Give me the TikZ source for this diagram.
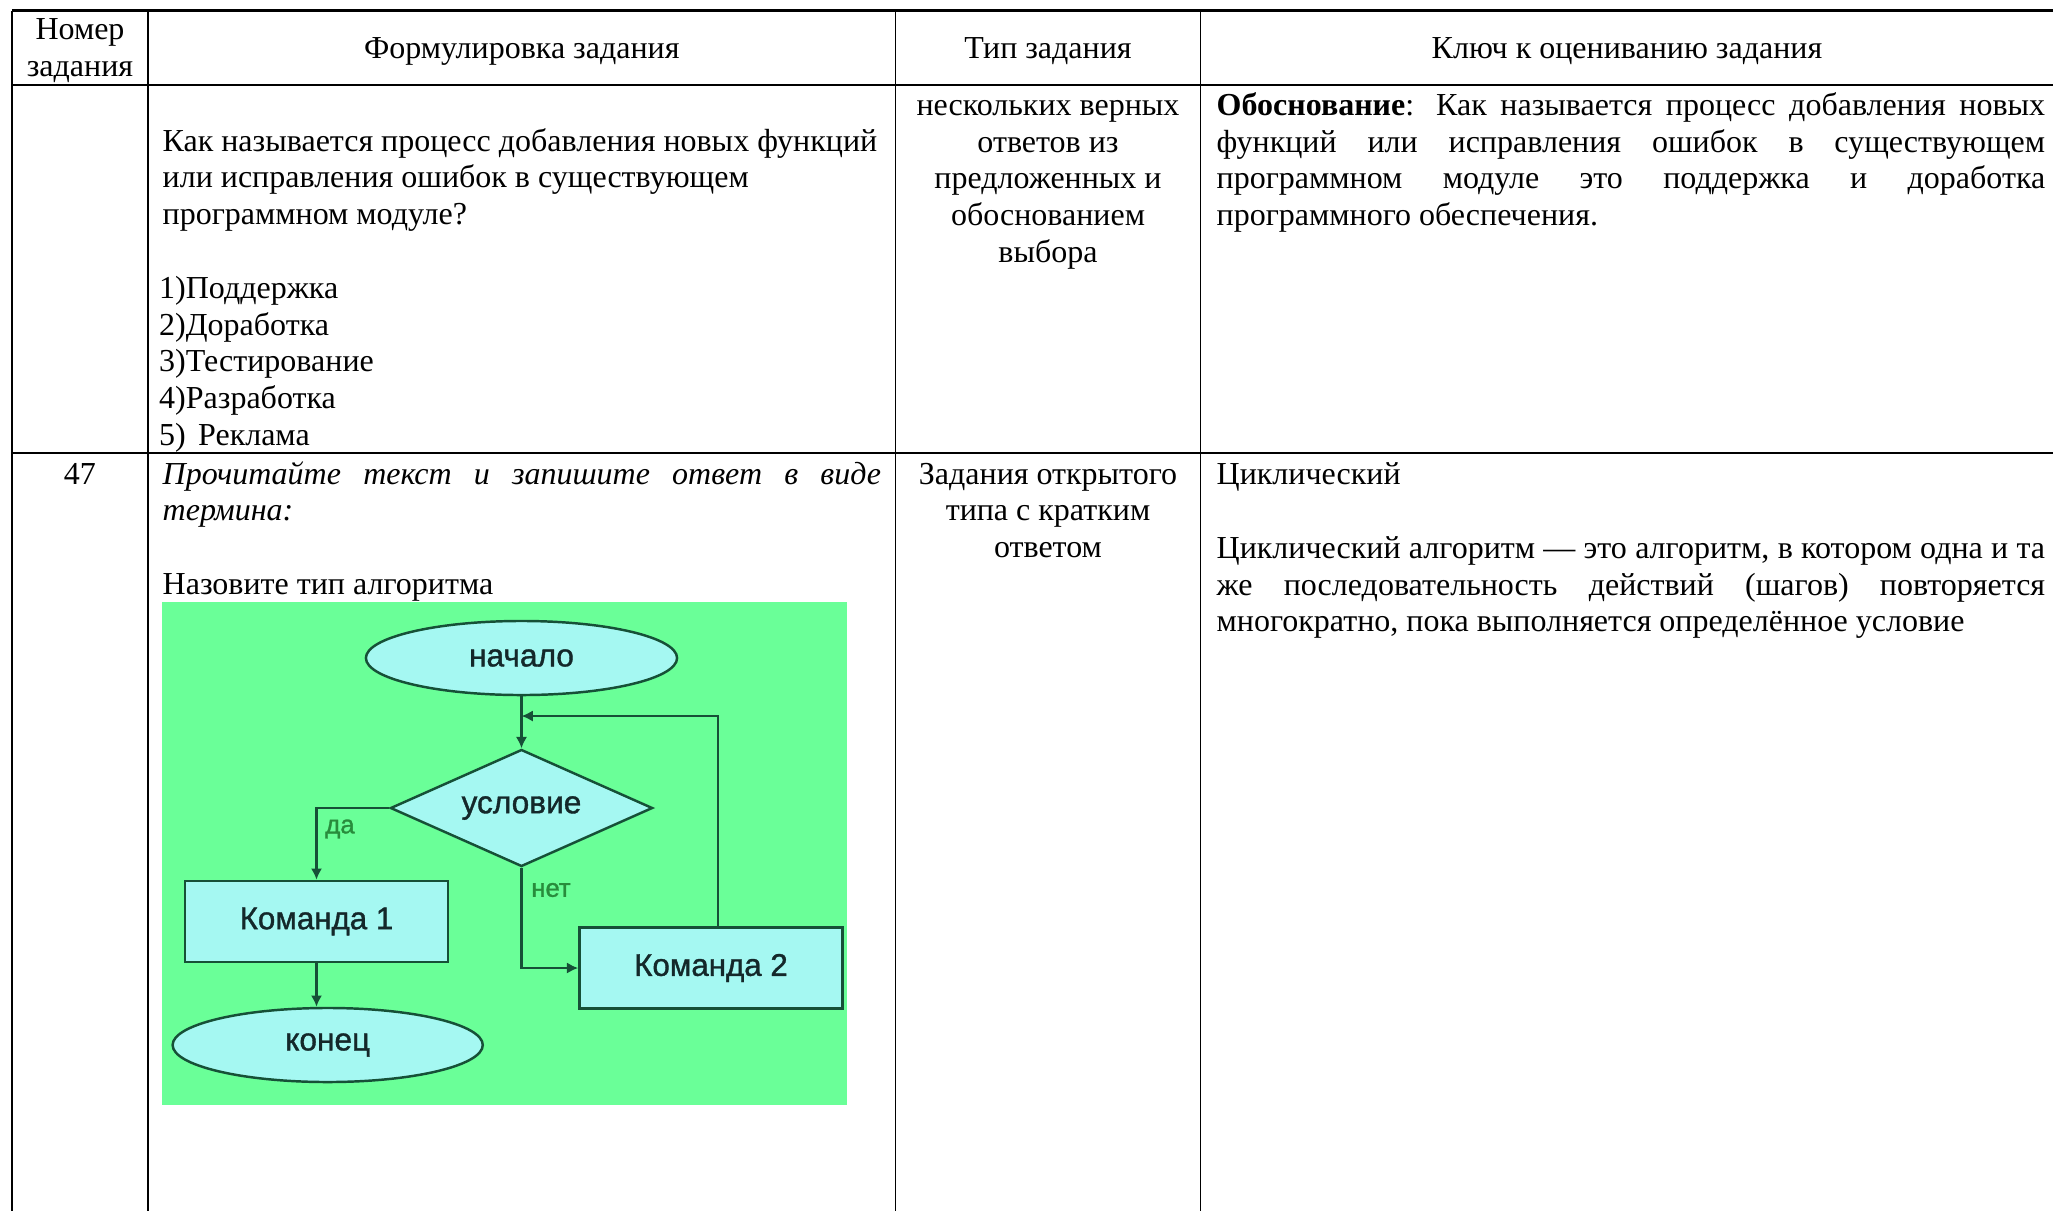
\documentclass[tikz,border=0pt]{standalone}
\usepackage{fontspec}
\setmainfont{Liberation Serif}
\newfontfamily\flowsans[FakeBold=1.2]{Liberation Sans}
\usetikzlibrary{shapes.geometric,arrows.meta}

\definecolor{flowbg}{RGB}{106,255,152}
\definecolor{flowfill}{RGB}{165,248,242}
\definecolor{flowline}{RGB}{22,80,55}
\definecolor{flowtext}{RGB}{20,40,42}
\definecolor{labgreen}{RGB}{40,140,60}

\newcommand\tabfont{\fontsize{9.1pt}{10.44pt}\selectfont}
\newcommand\jline[2]{\makebox[#1][s]{#2}}

\tikzset{
  celltext/.style={inner sep=0pt, font=\tabfont, anchor=base west},
  midtext/.style={inner sep=0pt, font=\tabfont, anchor=base},
  hrule/.style={line width=0.7pt},
  vrule/.style={line width=0.45pt},
  term/.style={ellipse, draw=flowline, fill=flowfill, line width=0.7pt, inner sep=0pt,
    minimum width=3.11cm, minimum height=0.74cm, text=flowtext,
    font=\flowsans\fontsize{9pt}{10pt}\selectfont},
  cond/.style={diamond, aspect=2.24, draw=flowline, fill=flowfill, line width=0.7pt, inner sep=0pt,
    minimum width=2.62cm, minimum height=1.17cm, text=flowtext,
    font=\flowsans\fontsize{9pt}{10pt}\selectfont},
  cmdbox/.style={rectangle, draw=flowline, fill=flowfill, line width=0.7pt, inner sep=0pt,
    minimum width=2.63cm, minimum height=0.81cm, text=flowtext,
    font=\flowsans\fontsize{8.9pt}{10pt}\selectfont},
  flow/.style={draw=flowline, line width=0.7pt, -{Latex[length=3.2pt,width=3.2pt]}},
  branch/.style={inner sep=0pt, text=labgreen, font=\flowsans\fontsize{7.3pt}{8pt}\selectfont}
}

\begin{document}
\begin{tikzpicture}[x=0.01cm, y=-0.01cm]
  \useasboundingbox (0,0) rectangle (2053,1211);

  % table rules
  \draw[hrule] (11.8,10.5) -- (2053,10.5);
  \draw[hrule] (11.8,85) -- (2053,85);
  \draw[hrule] (11.8,453) -- (2053,453);
  \draw[vrule] (11.8,10.5) -- (11.8,1211);
  \draw[vrule] (148,10.5) -- (148,1211);
  \draw[vrule] (895.6,10.5) -- (895.6,1211);
  \draw[vrule] (1200.6,10.5) -- (1200.6,1211);

  % header
  \node[midtext] (hnum) at (80,39.5) {Номер};
  \node[midtext] (hnumb) at (80,76.2) {задания};
  \node[midtext] (hform) at (521.8,58.8) {Формулировка задания};
  \node[midtext] (htype) at (1048,58.8) {Тип задания};
  \node[midtext] (hkey) at (1627,58.8) {Ключ к оцениванию задания};

  % row 1
  \foreach \t [count=\i from 0] in {{Как называется процесс добавления новых функций},
      {или исправления ошибок в существующем},{программном модуле?}}
    \node[celltext] (qa\i) at (162,{151+36.7*\i}) {\t};
  \foreach \t [count=\i from 0] in {{1)Поддержка},{2)Доработка},{3)Тестирование},
      {4)Разработка},{5)\hspace{3.5pt}Реклама}}
    \node[celltext] (opt\i) at (158.5,{298.5+36.7*\i}) {\t};
  \foreach \t [count=\i from 0] in {{нескольких верных},{ответов из},{предложенных и},
      {обоснованием},{выбора}}
    \node[midtext] (tpa\i) at (1048,{115.5+36.7*\i}) {\t};
  \node[celltext] (ka0) at (1216,115.5)
    {\jline{8.28cm}{\textbf{Обоснование}: Как называется процесс добавления новых}};
  \node[celltext] (ka1) at (1216,152.2)
    {\jline{8.28cm}{функций или исправления ошибок в существующем}};
  \node[celltext] (ka2) at (1216,188.9)
    {\jline{8.28cm}{программном модуле это поддержка и доработка}};
  \node[celltext] (ka3) at (1216,225.6) {программного обеспечения.};

  % row 2
  \node[midtext] (num) at (80,484) {47};
  \node[celltext] (qb0) at (162,484)
    {\jline{7.18cm}{\itshape Прочитайте текст и запишите ответ в виде}};
  \node[celltext] (qb1) at (162,520.7) {\itshape термина:};
  \node[celltext] (qb2) at (162,594) {Назовите тип алгоритма};
  \foreach \t [count=\i from 0] in {{Задания открытого},{типа с кратким},{ответом}}
    \node[midtext] (tpb\i) at (1048,{484+36.7*\i}) {\t};
  \node[celltext] (kb0) at (1216,484) {Циклический};
  \node[celltext] (kb1) at (1216,558.5)
    {\jline{8.28cm}{Циклический алгоритм — это алгоритм, в котором одна и та}};
  \node[celltext] (kb2) at (1216,595.2)
    {\jline{8.28cm}{же последовательность действий (шагов) повторяется}};
  \node[celltext] (kb3) at (1216,631.9) {многократно, пока выполняется определённое условие};

  % flowchart
  \fill[flowbg] (162.4,602) rectangle (847,1105);
  \node[term] (start) at (521.5,658) {начало};
  \node[cond] (cond) at (521.5,808) {условие};
  \node[cmdbox] (cmd1) at (316.5,921.5) {Команда 1};
  \node[cmdbox] (cmd2) at (711,968) {Команда 2};
  \node[term, minimum width=3.1cm] (end) at (327.7,1045) {конец};
  \coordinate (loopin) at (521.5,716);
  \draw[flow] (start) -- (cond);
  \draw[flow] (cond.west) -| (cmd1.north);
  \draw[flow] (cmd1.south) -- (cmd1.south |- end.north);
  \draw[flow] (cond.south) |- (cmd2.west);
  \draw[flow] ([xshift=0.07cm]cmd2.north) |- (loopin);
  \node[branch] (yes) at (340,829) {да};
  \node[branch] (no) at (551,890) {нет};
\end{tikzpicture}
\end{document}
